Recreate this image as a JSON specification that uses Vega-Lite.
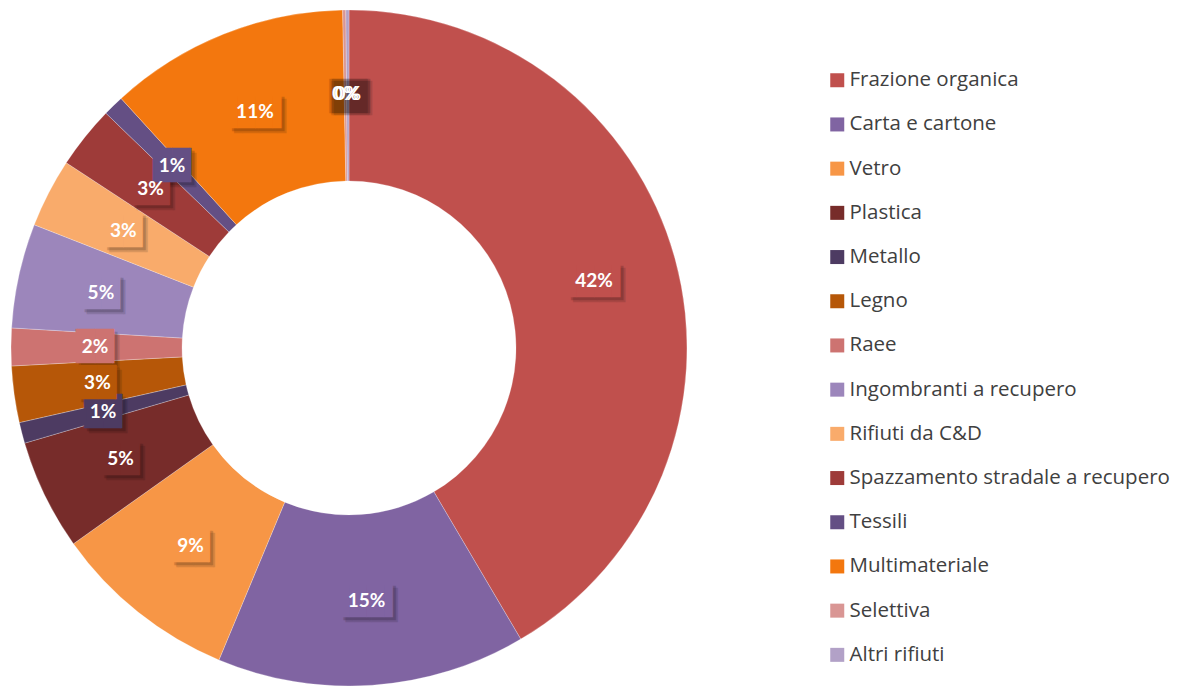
{
  "$schema": "https://vega.github.io/schema/vega-lite/v6.json",
  "width": 698,
  "height": 696,
  "padding": 0,
  "background": "#ffffff",
  "data": {
    "values": [
      {"idx": 1, "name": "Frazione organica", "value": 41.6, "label": "42%"},
      {"idx": 2, "name": "Carta e cartone", "value": 14.8, "label": "15%"},
      {"idx": 3, "name": "Vetro", "value": 8.9, "label": "9%"},
      {"idx": 4, "name": "Plastica", "value": 5.3, "label": "5%"},
      {"idx": 5, "name": "Metallo", "value": 1.0, "label": "1%"},
      {"idx": 6, "name": "Legno", "value": 2.7, "label": "3%"},
      {"idx": 7, "name": "Raee", "value": 1.8, "label": "2%"},
      {"idx": 8, "name": "Ingombranti a recupero", "value": 5.0, "label": "5%"},
      {"idx": 9, "name": "Rifiuti da C&D", "value": 3.3, "label": "3%"},
      {"idx": 10, "name": "Spazzamento stradale a recupero", "value": 3.0, "label": "3%"},
      {"idx": 11, "name": "Tessili", "value": 1.0, "label": "1%"},
      {"idx": 12, "name": "Multimateriale", "value": 11.5, "label": "11%"},
      {"idx": 13, "name": "Selettiva", "value": 0.15, "label": "0%"},
      {"idx": 14, "name": "Altri rifiuti", "value": 0.15, "label": "0%"}
    ]
  },
  "transform": [
    {"calculate": "length(datum.label) > 2 ? '\u2590\u2588\u2588\u258c' : '\u2595\u2588\u2588\u258f'", "as": "box"}
  ],
  "encoding": {
    "theta": {"field": "value", "type": "quantitative", "stack": true},
    "order": {"field": "idx", "type": "quantitative"},
    "color": {
      "field": "name",
      "type": "nominal",
      "sort": null,
      "scale": {
        "domain": ["Frazione organica", "Carta e cartone", "Vetro", "Plastica", "Metallo", "Legno", "Raee", "Ingombranti a recupero", "Rifiuti da C&D", "Spazzamento stradale a recupero", "Tessili", "Multimateriale", "Selettiva", "Altri rifiuti"],
        "range": ["#C0504D", "#8064A2", "#F79646", "#772C2A", "#4D3B62", "#B65708", "#CD7371", "#9C86BB", "#F9AB6B", "#9E3B39", "#644F84", "#F3770E", "#D99694", "#B2A1C7"]
      },
      "legend": {
        "title": null,
        "orient": "none",
        "legendX": 827,
        "legendY": 70,
        "symbolType": "square",
        "symbolSize": 196,
        "symbolStrokeWidth": 0,
        "symbolOpacity": 1,
        "labelFont": "Open Sans",
        "labelFontSize": 20.5,
        "labelColor": "#404040",
        "labelOffset": 2,
        "labelLimit": 400,
        "rowPadding": 23.2
      }
    }
  },
  "layer": [
    {"mark": {"type": "arc", "outerRadius": 338, "innerRadius": 167, "stroke": "#ffffff", "strokeWidth": 0.5, "strokeOpacity": 0.5}},
    {
      "mark": {"type": "text", "radius": 254, "font": "DejaVu Sans Mono", "fontSize": 29, "baseline": "middle", "align": "center", "dx": 5, "dy": 5},
      "encoding": {"text": {"field": "box"}, "color": {"value": "#000000"}, "opacity": {"value": 0.12}}
    },
    {
      "mark": {"type": "text", "radius": 254, "font": "DejaVu Sans Mono", "fontSize": 29, "baseline": "middle", "align": "center", "dx": 3, "dy": 3},
      "encoding": {"text": {"field": "box"}, "color": {"value": "#000000"}, "opacity": {"value": 0.16}}
    },
    {
      "mark": {"type": "text", "radius": 254, "font": "DejaVu Sans Mono", "fontSize": 29, "baseline": "middle", "align": "center"},
      "encoding": {"text": {"field": "box"}, "opacity": {"condition": {"test": "datum.value < 1", "value": 0}, "value": 1}}
    },
    {
      "mark": {"type": "text", "radius": 254, "font": "Lato", "fontSize": 19, "fontWeight": "bold", "baseline": "middle", "align": "center"},
      "encoding": {"text": {"field": "label", "type": "nominal"}, "color": {"value": "#ffffff"}}
    }
  ],
  "config": {"view": {"stroke": null}}
}
